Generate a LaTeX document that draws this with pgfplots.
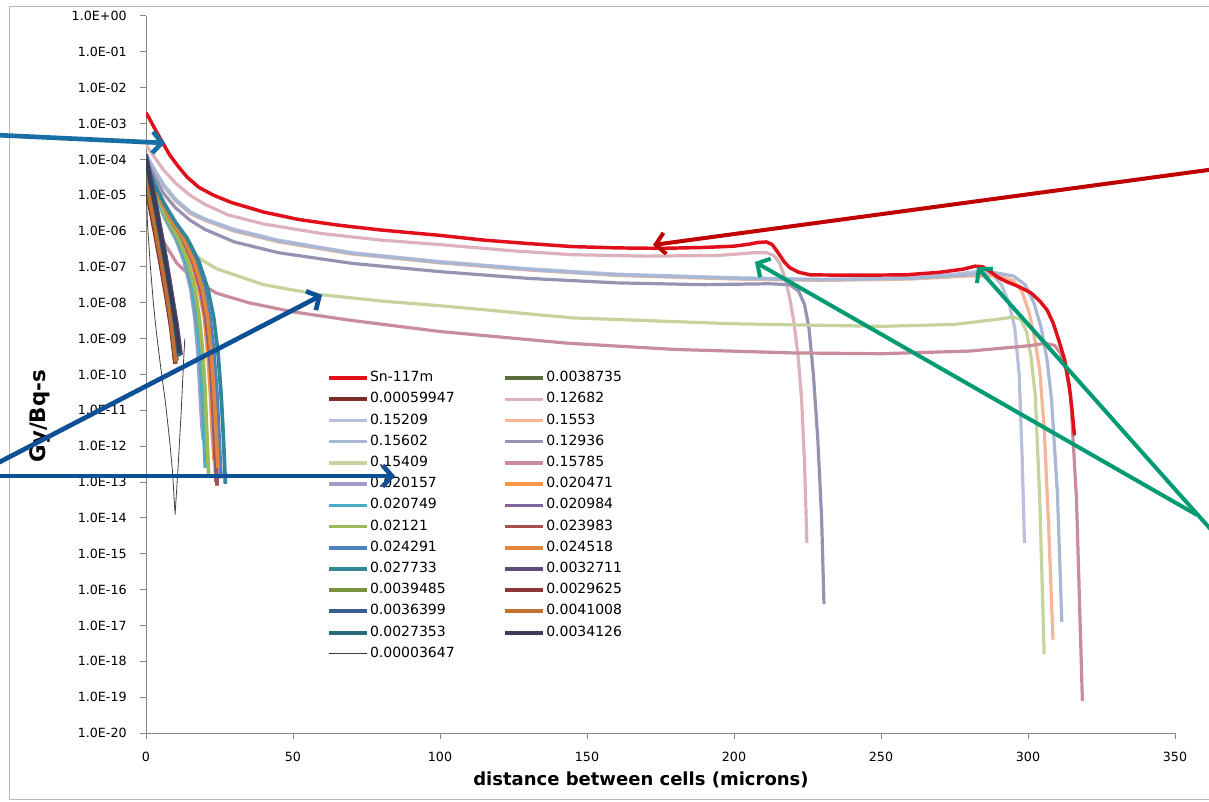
\documentclass[border=0pt]{standalone}
\usepackage{pgfplots}
\pgfplotsset{compat=1.18}
\usepackage{fontspec}
\setmainfont{DejaVu Sans}
\usetikzlibrary{arrows.meta}

\definecolor{snred}{RGB}{225,15,25}
\definecolor{cOliveDk}{RGB}{90,110,60}
\definecolor{cRedBr}{RGB}{125,45,42}
\definecolor{cPink}{RGB}{222,178,188}
\definecolor{cLavBl}{RGB}{184,192,222}
\definecolor{cSalmon}{RGB}{244,182,150}
\definecolor{cGrBl}{RGB}{168,184,212}
\definecolor{cLavGr}{RGB}{150,146,178}
\definecolor{cPaleGr}{RGB}{196,212,156}
\definecolor{cMauve}{RGB}{200,140,156}
\definecolor{cLav}{RGB}{160,156,200}
\definecolor{cOrange}{RGB}{247,150,70}
\definecolor{cCyan}{RGB}{75,172,198}
\definecolor{cPurple}{RGB}{128,100,162}
\definecolor{cYGreen}{RGB}{155,187,89}
\definecolor{cBrRed}{RGB}{165,82,79}
\definecolor{cBlue}{RGB}{79,129,189}
\definecolor{cOrangeB}{RGB}{225,133,62}
\definecolor{cTeal}{RGB}{49,134,155}
\definecolor{cPurpDk}{RGB}{96,74,123}
\definecolor{cOlive}{RGB}{118,146,60}
\definecolor{cRedDk}{RGB}{140,56,54}
\definecolor{cBlueDk}{RGB}{58,94,140}
\definecolor{cBrOr}{RGB}{192,113,47}
\definecolor{cTealDk}{RGB}{43,106,122}
\definecolor{cSlate}{RGB}{63,58,85}
\definecolor{cThin}{RGB}{64,64,64}
\definecolor{axgray}{RGB}{134,134,134}
\definecolor{arrBlue}{RGB}{25,110,165}
\definecolor{arrNavy}{RGB}{13,80,150}
\definecolor{arrRed}{RGB}{192,0,0}
\definecolor{arrGreen}{RGB}{0,155,115}

\tikzset{
  snr/.style={draw=snred,line width=2.6pt},
  lng/.style={line width=2.4pt},
  mid/.style={line width=2.8pt},
  sht/.style={line width=3pt},
}

\begin{document}
\begin{tikzpicture}[x=0.75pt,y=0.75pt,line join=round]
\useasboundingbox (0,0) rectangle (1209,802);
\fill[white] (0,0) rectangle (1209,802);
\draw[gray!55,line width=0.75pt] (1215,795) -- (9,795) -- (9,2) -- (1215,2);
\begin{axis}[
  at={(109.5pt,51.75pt)}, anchor=south west,
  scale only axis, width=771.75pt, height=537.75pt,
  xmin=0, xmax=350, ymode=log, ymin=1e-20, ymax=1,
  axis x line*=bottom, axis y line*=left,
  axis line style={axgray,line width=0.75pt,-},
  every tick/.style={axgray,line width=0.75pt},
  tick align=outside, major tick length=4.5pt,
  yminorticks=false, xminorticks=false,
  no markers,
  xtick={0,50,100,150,200,250,300,350},
  xticklabels={0,50,100,150,200,250,300,350},
  ytick={1e-20,1e-19,1e-18,1e-17,1e-16,1e-15,1e-14,1e-13,1e-12,1e-11,1e-10,1e-9,1e-8,1e-7,1e-6,1e-5,1e-4,1e-3,1e-2,1e-1,1},
  yticklabels={1.0E-20,1.0E-19,1.0E-18,1.0E-17,1.0E-16,1.0E-15,1.0E-14,1.0E-13,1.0E-12,1.0E-11,1.0E-10,1.0E-09,1.0E-08,1.0E-07,1.0E-06,1.0E-05,1.0E-04,1.0E-03,1.0E-02,1.0E-01,1.0E+00},
  tick label style={font=\fontsize{9.5}{11}\selectfont,black},
  yticklabel style={xshift=-6.5pt},
  xticklabel style={yshift=-6pt},
  xlabel={distance between cells (microns)},
  ylabel={Gy/Bq-s},
  xlabel style={at={(axis description cs:0.481,-0.0656)},anchor=center,font=\bfseries\fontsize{13.5}{15}\selectfont},
  ylabel style={at={(axis description cs:-0.103,0.442)},anchor=center,rotate=0,font=\bfseries\fontsize{16}{18}\selectfont},
  legend columns=2,
  legend cell align=left,
  legend style={at={(axis description cs:0.1759,0.5056)},anchor=north west,draw=none,fill=none,inner sep=0pt,
    font=\fontsize{10.5}{12}\selectfont, row sep=4.7pt,
    nodes={inner sep=0.6pt,text height=7.6pt,text depth=2.4pt},
    /tikz/every even column/.append style={column sep=36pt}},
  legend image code/.code={\draw[#1] (0pt,0pt) -- (28.5pt,0pt);},
]
\addlegendimage{snr}
% 0.0038735
\addplot[cOliveDk,sht] coordinates {(0,5.0e-5) (1,1.78e-5) (3,2.5e-6) (5,3.2e-7) (7,3.2e-8) (8.5,5.0e-9) (9.6,1.0e-9) (10.5,2.5e-10)};
% 0.00059947
\addplot[cRedBr,sht] coordinates {(0,1.58e-5) (1,6.3e-6) (3,8.9e-7) (5,1.12e-7) (7,1.26e-8) (8.5,2.0e-9) (9.2,6.3e-10) (9.9,2.0e-10)};
% 0.12682
\addplot[cPink,lng] coordinates {(0,2.5e-4) (3,1.12e-4) (6,5.0e-5) (10,2.2e-5) (15,1.0e-5) (20,5.6e-6) (28,2.8e-6) (40,1.58e-6) (60,8.5e-7) (80,5.6e-7) (100,4.2e-7) (125,2.8e-7) (145,2.2e-7) (170,2.0e-7) (195,2.1e-7) (207,2.5e-7) (211,2.5e-7) (213.5,2.1e-7) (215.5,1.3e-7) (217.5,4.5e-8) (219,1.3e-8) (220.5,2.5e-9) (221.8,3.2e-10) (223,2.0e-11) (224,3.2e-13) (224.8,2.0e-15)};
% 0.15209
\addplot[cLavBl,lng] coordinates {(0,1.41e-4) (3,5.0e-5) (6,2.0e-5) (10,7.9e-6) (15,3.5e-6) (20,2.2e-6) (30,1.12e-6) (45,5.6e-7) (70,2.5e-7) (100,1.41e-7) (130,8.9e-8) (160,6.3e-8) (200,5.0e-8) (230,4.5e-8) (260,5.0e-8) (275,6.3e-8) (284,7.6e-8) (288,6.0e-8) (291,3.2e-8) (293.5,1.0e-8) (295.5,2.0e-9) (297,1.0e-10) (298,5.0e-13) (298.8,2.0e-15)};
% 0.1553
\addplot[cSalmon,lng] coordinates {(0,1.2e-4) (3,4.4e-5) (6,1.8e-5) (10,7.0e-6) (15,3.1e-6) (20,2.0e-6) (30,1.0e-6) (45,5.0e-7) (70,2.3e-7) (100,1.3e-7) (130,8.2e-8) (160,5.8e-8) (200,4.6e-8) (230,4.2e-8) (260,4.6e-8) (280,5.6e-8) (290,5.6e-8) (295,4.2e-8) (298,2.0e-8) (300.5,5.0e-9) (302.5,7.9e-10) (304,1.26e-10) (305.5,3.2e-12) (307,6.3e-15) (308.5,4.0e-18)};
% 0.15602
\addplot[cGrBl,lng] coordinates {(0,1.3e-4) (3,4.7e-5) (6,1.9e-5) (10,7.4e-6) (15,3.3e-6) (20,2.1e-6) (30,1.05e-6) (45,5.3e-7) (70,2.4e-7) (100,1.35e-7) (130,8.5e-8) (160,6.0e-8) (200,4.8e-8) (230,4.4e-8) (260,4.8e-8) (280,6.0e-8) (288,7.1e-8) (295,5.6e-8) (299,3.2e-8) (302,1.0e-8) (304.5,2.0e-9) (306.5,2.5e-10) (308,2.0e-11) (310,5.0e-14) (311.5,1.26e-17)};
% 0.12936
\addplot[cLavGr,lng] coordinates {(0,1.0e-4) (3,3.2e-5) (6,1.12e-5) (10,4.5e-6) (15,2.0e-6) (20,1.12e-6) (30,5.0e-7) (45,2.5e-7) (70,1.26e-7) (100,7.4e-8) (130,4.8e-8) (160,3.6e-8) (190,3.2e-8) (212,3.4e-8) (219,3.2e-8) (222,2.1e-8) (224,8.9e-9) (225.5,2.0e-9) (227,1.0e-10) (228.5,1.58e-12) (229.8,1.0e-14) (230.6,4.0e-17)};
% 0.15409
\addplot[cPaleGr,lng] coordinates {(0,5.0e-5) (3,1.0e-5) (6,2.5e-6) (9.5,7.1e-7) (15,2.5e-7) (24,8.9e-8) (40,3.2e-8) (58,1.74e-8) (80,1.12e-8) (100,8.3e-9) (145,3.8e-9) (200,2.6e-9) (250,2.2e-9) (275,2.5e-9) (290,3.5e-9) (295,4.0e-9) (297.5,3.5e-9) (299.5,1.58e-9) (301,3.2e-10) (302.5,2.5e-11) (304,3.2e-14) (305.5,1.58e-18)};
% 0.15785
\addplot[cMauve,lng] coordinates {(0,2.5e-5) (3,2.5e-6) (6,5.0e-7) (10.5,1.26e-7) (17,4.0e-8) (24,1.86e-8) (35,1.0e-8) (50,5.6e-9) (69,3.3e-9) (100,1.58e-9) (144,7.4e-10) (180,5.0e-10) (220,4.0e-10) (250,3.8e-10) (280,4.5e-10) (300,6.3e-10) (306,7.4e-10) (309,6.5e-10) (311,4.0e-10) (313,1.26e-10) (314.5,2.5e-11) (316.5,3.2e-14) (318.5,7.9e-20)};
% 0.020157
\addplot[cLav,mid] coordinates {(0,7.9e-5) (2.2,2.0e-5) (4.3,6.3e-6) (7.2,1.78e-6) (10.1,6.3e-7) (13.0,1.41e-7) (15.2,2.5e-8) (16.6,4.0e-9) (17.7,4.0e-10) (18.4,3.2e-11) (19.0,4.0e-12) (19.5,1.58e-12)};
% 0.020471
\addplot[cOrange,mid] coordinates {(0,7.9e-5) (2.6,2.0e-5) (5.2,6.3e-6) (8.6,1.78e-6) (12.0,6.3e-7) (15.5,1.41e-7) (18.0,2.5e-8) (19.8,4.0e-9) (21.0,4.0e-10) (21.9,3.2e-11) (22.6,2.0e-12) (23.2,4.0e-13)};
% 0.020749
\addplot[cCyan,mid] coordinates {(0,7.9e-5) (2.2,2.0e-5) (4.5,6.3e-6) (7.5,1.78e-6) (10.5,6.3e-7) (13.5,1.41e-7) (15.7,2.5e-8) (17.2,4.0e-9) (18.3,4.0e-10) (19.1,3.2e-11) (19.7,2.0e-12) (20.2,2.5e-13)};
% 0.020984
\addplot[cPurple,mid] coordinates {(0,7.9e-5) (2.6,2.0e-5) (5.3,6.3e-6) (8.8,1.78e-6) (12.3,6.3e-7) (15.9,1.41e-7) (18.5,2.5e-8) (20.3,4.0e-9) (21.6,4.0e-10) (22.5,3.2e-11) (23.2,2.0e-12) (23.8,1.0e-13)};
% 0.02121
\addplot[cYGreen,mid] coordinates {(0,7.9e-5) (2.4,2.0e-5) (4.7,6.3e-6) (7.9,1.78e-6) (11.0,6.3e-7) (14.2,1.41e-7) (16.6,2.5e-8) (18.1,4.0e-9) (19.3,4.0e-10) (20.1,3.2e-11) (20.7,2.0e-12) (21.3,1.58e-13)};
% 0.023983
\addplot[cBrRed,mid] coordinates {(0,7.9e-5) (2.7,2.0e-5) (5.4,6.3e-6) (9.0,1.78e-6) (12.5,6.3e-7) (16.1,1.41e-7) (18.8,2.5e-8) (20.6,4.0e-9) (22.0,4.0e-10) (22.8,3.2e-11) (23.6,2.0e-12) (24.2,7.9e-14)};
% 0.024291
\addplot[cBlue,mid] coordinates {(0,7.9e-5) (2.8,2.0e-5) (5.7,6.3e-6) (9.4,1.78e-6) (13.2,6.3e-7) (17.0,1.41e-7) (19.8,2.5e-8) (21.7,4.0e-9) (23.1,4.0e-10) (24.1,3.2e-11) (24.8,2.0e-12) (25.5,1.26e-13)};
% 0.024518
\addplot[cOrangeB,mid] coordinates {(0,7.9e-5) (2.7,2.0e-5) (5.4,6.3e-6) (9.1,1.78e-6) (12.7,6.3e-7) (16.3,1.41e-7) (19.1,2.5e-8) (20.9,4.0e-9) (22.2,4.0e-10) (23.1,3.2e-11) (23.9,2.0e-12) (24.5,2.5e-13)};
% 0.027733
\addplot[cTeal,mid] coordinates {(0,7.9e-5) (3,2.0e-5) (6,6.3e-6) (10,1.78e-6) (14,6.3e-7) (18,1.41e-7) (21,2.5e-8) (23,4.0e-9) (24.5,4.0e-10) (25.5,3.2e-11) (26.3,2.0e-12) (27,8.9e-14)};
% 0.0032711
\addplot[cPurpDk,sht] coordinates {(0,1.41e-4) (1,5.6e-5) (3,8.9e-6) (5,1.12e-6) (7,1.41e-7) (9,1.41e-8) (10.5,2.5e-9) (11.9,3.5e-10)};
% 0.0039485
\addplot[cOlive,sht] coordinates {(0,4.0e-5) (1,1.41e-5) (3,2.0e-6) (5,2.5e-7) (7,2.5e-8) (8.5,4.0e-9) (9.5,1.0e-9) (10.3,2.5e-10)};
% 0.0029625
\addplot[cRedDk,sht] coordinates {(0,2.0e-5) (1,7.9e-6) (3,1.12e-6) (5,1.41e-7) (7,1.58e-8) (8.5,2.5e-9) (9.3,7.1e-10) (10.0,2.0e-10)};
% 0.0036399
\addplot[cBlueDk,sht] coordinates {(0,1.26e-4) (1,5.0e-5) (3,7.9e-6) (5,1.0e-6) (7,1.26e-7) (9,1.26e-8) (10.5,2.0e-9) (11.6,4.0e-10)};
% 0.0041008
\addplot[cBrOr,sht] coordinates {(0,2.5e-5) (1,1.0e-5) (3,1.41e-6) (5,1.78e-7) (7,2.0e-8) (8.5,3.2e-9) (9.4,7.9e-10) (10.2,2.2e-10)};
% 0.0027353
\addplot[cTealDk,sht] coordinates {(0,7.9e-5) (1,3.2e-5) (3,5.0e-6) (5,6.3e-7) (7,7.9e-8) (9,7.9e-9) (10.3,1.26e-9) (11.2,3.2e-10)};
% 0.0034126
\addplot[cSlate,sht] coordinates {(0,1.0e-4) (1,4.0e-5) (3,6.3e-6) (5,7.9e-7) (7,1.0e-7) (9,1.0e-8) (10.5,1.58e-9) (11.4,4.0e-10)};
% 0.00003647
\addplot[cThin,line width=0.6pt] coordinates {(0,3.2e-5) (0.5,1.58e-6) (1.5,1.0e-7) (2.5,1.0e-8) (3.5,1.58e-9) (5,1.58e-10) (6.5,2.0e-11) (8,1.58e-12) (9,2.0e-13) (9.9,1.26e-14) (10.9,2.5e-13) (12,1.0e-11) (12.8,2.5e-10) (13.2,1.0e-9)};
% Sn-117m (drawn last, on top)
\addplot[snr,forget plot] coordinates {(0,2.0e-3) (1,1.45e-3) (2,1.02e-3) (3.5,6.0e-4) (5.4,3.2e-4) (8,1.35e-4) (11,6.3e-5) (14,3.2e-5) (18,1.66e-5) (23,1.0e-5) (29,6.3e-6) (40,3.4e-6) (52,2.1e-6) (65,1.48e-6) (80,1.07e-6) (100,7.6e-7) (115,5.6e-7) (130,4.5e-7) (145,3.7e-7) (160,3.4e-7) (175,3.3e-7) (190,3.5e-7) (200,3.8e-7) (205,4.3e-7) (208,4.8e-7) (211,5.0e-7) (213,4.2e-7) (215,2.5e-7) (217,1.41e-7) (219,9.5e-8) (222,7.1e-8) (226,6.0e-8) (240,5.9e-8) (258,6.0e-8) (270,7.1e-8) (278,8.7e-8) (282,1.05e-7) (284.5,1.02e-7) (287,7.6e-8) (290,5.0e-8) (293,3.8e-8) (297,2.8e-8) (301,1.9e-8) (304,1.12e-8) (306.5,6.3e-9) (308.5,2.8e-9) (310.5,8.9e-10) (312.5,2.5e-10) (314,5.0e-11) (315,1.0e-11) (315.8,2.0e-12)};
\legend{Sn-117m,0.0038735,0.00059947,0.12682,0.15209,0.1553,0.15602,0.12936,0.15409,0.15785,0.020157,0.020471,0.020749,0.020984,0.02121,0.023983,0.024291,0.024518,0.027733,0.0032711,0.0039485,0.0029625,0.0036399,0.0041008,0.0027353,0.0034126,0.00003647}
\end{axis}
% annotation arrows
\draw[arrBlue,line width=3.5pt,-{Straight Barb[length=7pt,width=16pt]}] (-5,667) -- (165,659);
\draw[arrRed,line width=3pt,-{Straight Barb[length=7pt,width=16pt]}] (1260,639) -- (653,557);
\draw[arrNavy,line width=3.5pt,-{Straight Barb[length=7pt,width=16pt]}] (-10,335) -- (322,507);
\draw[arrNavy,line width=3.5pt,-{Straight Barb[length=7pt,width=16pt]}] (-10,326) -- (395,326);
\draw[arrGreen,line width=3pt,-{Straight Barb[length=7pt,width=16pt]}] (1197,287) -- (755,540);
\draw[arrGreen,line width=3pt,-{Straight Barb[length=7pt,width=16pt]}] (1230,251) -- (977,535);
\end{tikzpicture}
\end{document}
